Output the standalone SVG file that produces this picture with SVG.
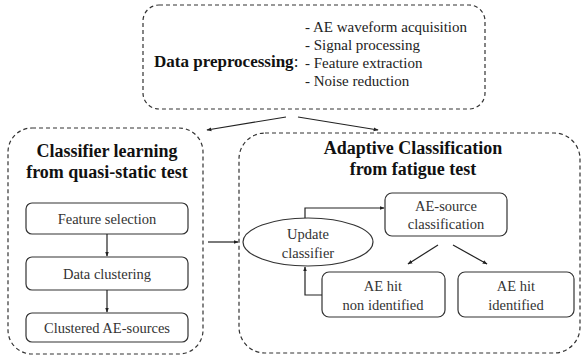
<svg xmlns="http://www.w3.org/2000/svg" width="581" height="356" viewBox="0 0 581 356">
<defs>
<marker id="ah" viewBox="0 0 8 8" refX="7" refY="4" markerWidth="5" markerHeight="5" orient="auto" markerUnits="userSpaceOnUse">
<path d="M0,1 L8,4 L0,7 z" fill="#222"/>
</marker>
<style>
.dash{fill:none;stroke:#333;stroke-width:1.2;stroke-dasharray:4,3}
.box{fill:#fff;stroke:#333;stroke-width:1.2}
text{font-family:"Liberation Serif",Tinos,"Times New Roman",Times,"DejaVu Serif",serif}
.t{font-size:14.5px;fill:#333;text-anchor:middle}
.l{font-size:15px;fill:#222}
.b{font-size:18px;font-weight:bold;fill:#111;text-anchor:middle}
.c{fill:none;stroke:#222;stroke-width:1.2}
</style>
</defs>
<rect width="581" height="356" fill="#fff"/>
<g id="preprocessing">
<rect class="dash" x="143" y="5" width="342" height="104" rx="16"/>
<text x="154" y="67" font-size="17" fill="#111"><tspan font-weight="bold">Data preprocessing</tspan>:</text>
<text class="l" x="305" y="32">- AE waveform acquisition</text>
<text class="l" x="305" y="50">- Signal processing</text>
<text class="l" x="305" y="68">- Feature extraction</text>
<text class="l" x="305" y="86">- Noise reduction</text>
</g>
<g id="learning">
<rect class="dash" x="8" y="128" width="195" height="226" rx="24"/>
<text class="b" x="107" y="157">Classifier learning</text>
<text class="b" x="107" y="178">from quasi-static test</text>
</g>
<g id="feature-selection">
<rect class="box" x="26" y="203" width="162" height="31" rx="6"/>
<text class="t" x="107" y="224">Feature selection</text>
</g>
<g id="data-clustering">
<rect class="box" x="26" y="257" width="162" height="33" rx="6"/>
<text class="t" x="107" y="279">Data clustering</text>
</g>
<g id="clustered-sources">
<rect class="box" x="26" y="313" width="162" height="29" rx="6"/>
<text class="t" x="107" y="333">Clustered AE-sources</text>
</g>
<g id="adaptive">
<rect class="dash" x="239" y="133" width="341" height="220" rx="26"/>
<text class="b" x="413" y="154">Adaptive Classification</text>
<text class="b" x="413" y="175">from fatigue test</text>
</g>
<g id="update-classifier">
<ellipse class="box" cx="308" cy="242" rx="65" ry="24"/>
<text class="t" x="308" y="239">Update</text>
<text class="t" x="308" y="258">classifier</text>
</g>
<g id="ae-source-classification">
<rect class="box" x="385" y="193" width="122" height="43" rx="7"/>
<text class="t" x="446" y="211">AE-source</text>
<text class="t" x="446" y="229">classification</text>
</g>
<g id="ae-hit-non-identified">
<rect class="box" x="322" y="272" width="123" height="45" rx="7"/>
<text class="t" x="383" y="291">AE hit</text>
<text class="t" x="383" y="310">non identified</text>
</g>
<g id="ae-hit-identified">
<rect class="box" x="458" y="272" width="116" height="45" rx="7"/>
<text class="t" x="516" y="291">AE hit</text>
<text class="t" x="516" y="310">identified</text>
</g>
<g id="connectors">
<line class="c" x1="286" y1="117" x2="207" y2="130" marker-end="url(#ah)"/>
<line class="c" x1="298" y1="117" x2="378" y2="130" marker-end="url(#ah)"/>
<line class="c" x1="107" y1="234" x2="107" y2="256" marker-end="url(#ah)"/>
<line class="c" x1="107" y1="290" x2="107" y2="312" marker-end="url(#ah)"/>
<line class="c" x1="208" y1="242" x2="238" y2="242" marker-end="url(#ah)"/>
<polyline class="c" points="305,218 305,208 384,208" marker-end="url(#ah)"/>
<polyline class="c" points="322,295 305,295 305,267" marker-end="url(#ah)"/>
<line class="c" x1="438" y1="245" x2="408" y2="264" marker-end="url(#ah)"/>
<line class="c" x1="453" y1="245" x2="487" y2="264" marker-end="url(#ah)"/>
</g>
</svg>
